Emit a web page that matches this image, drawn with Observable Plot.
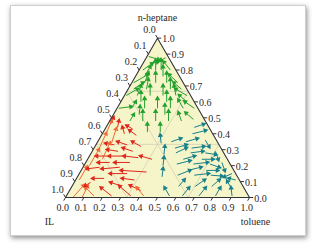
<!DOCTYPE html>
<html><head><meta charset="utf-8">
<script src="https://cdn.jsdelivr.net/npm/d3@7"></script>
<script src="https://cdn.jsdelivr.net/npm/@observablehq/plot@0.6"></script>
<style>
html,body{margin:0;padding:0;background:#fff;}
#wrap{position:relative;width:315px;height:245px;overflow:hidden;}
#card{position:absolute;left:10px;top:5px;width:294px;height:229px;background:#fff;border:1px solid #cfcfcf;box-shadow:1px 2px 5px rgba(0,0,0,0.45);}
#chart{position:absolute;left:0;top:0;}
</style></head>
<body><div id="wrap"><div id="card"></div><div id="chart"></div></div>
<script>
// axis tick values (fraction) and labels
const tickValues = [0,0.1,0.2,0.3,0.4,0.5,0.6,0.7,0.8,0.9,1.0];
const tickLabels = ["0.0","0.1","0.2","0.3","0.4","0.5","0.6","0.7","0.8","0.9","1.0"];
const gridValues = [1/3, 2/3];
const cornerNames = ["n-heptane","IL","toluene"];
// arrows: [heptane0, toluene0, heptane1, toluene1]  (IL = 1 - heptane - toluene)
const greenArrows = [
 [0.885,0.01,0.866,0.072],[0.877,0.105,0.86,0.087],
 [0.84,0.04,0.85,0.075],[0.76,0.05,0.82,0.05],[0.76,0.15,0.82,0.12],
 [0.80,0.02,0.84,0.05],[0.80,0.09,0.86,0.06],[0.80,0.12,0.86,0.09],[0.80,0.17,0.85,0.11],
 [0.72,0.01,0.77,0.06],[0.72,0.07,0.78,0.06],[0.72,0.13,0.78,0.10],[0.72,0.19,0.78,0.16],[0.72,0.25,0.77,0.18],
 [0.68,0.03,0.72,0.06],[0.68,0.10,0.74,0.08],[0.68,0.23,0.74,0.20],[0.68,0.29,0.72,0.23],
 [0.64,0.01,0.68,0.05],[0.64,0.07,0.70,0.06],[0.64,0.14,0.70,0.11],[0.64,0.21,0.70,0.18],[0.64,0.28,0.70,0.24],[0.64,0.34,0.68,0.26],
 [0.60,0.11,0.66,0.08],[0.60,0.25,0.66,0.22],[0.60,0.36,0.64,0.30],
 [0.56,0.01,0.57,0.07],[0.56,0.08,0.60,0.08],[0.56,0.15,0.62,0.12],[0.56,0.22,0.62,0.19],[0.56,0.29,0.62,0.26],[0.56,0.36,0.61,0.31],[0.56,0.42,0.60,0.35],
 [0.52,0.14,0.57,0.12],[0.52,0.28,0.58,0.25],
 [0.48,0.11,0.52,0.11],[0.48,0.18,0.54,0.15],[0.48,0.25,0.54,0.22],[0.48,0.32,0.54,0.29],[0.48,0.39,0.53,0.35],[0.49,0.45,0.53,0.39],
 [0.41,0.24,0.46,0.215],[0.41,0.31,0.46,0.285]
];
const redArrows = [
 [0.40,0.12,0.44,0.09],[0.39,0.19,0.42,0.14],[0.43,0.15,0.45,0.11],
 [0.33,0.10,0.34,0.05],[0.33,0.17,0.35,0.11],[0.32,0.25,0.35,0.19],
 [0.29,0.14,0.30,0.08],[0.29,0.22,0.31,0.16],
 [0.26,0.10,0.26,0.04],[0.26,0.18,0.26,0.11],[0.25,0.27,0.26,0.19],[0.24,0.35,0.26,0.28],
 [0.22,0.13,0.22,0.07],[0.22,0.24,0.22,0.16],
 [0.19,0.09,0.18,0.03],[0.19,0.20,0.18,0.11],[0.16,0.36,0.17,0.22],[0.15,0.26,0.15,0.17],
 [0.075,0.26,0.094,0.20],[0.11,0.32,0.12,0.25],[0.044,0.386,0.075,0.316],[0.12,0.15,0.12,0.09],
 [0.01,0.35,0.07,0.26],[0.01,0.245,0.06,0.165],[0.094,0.089,0.075,0.071],
 [0.46,0.015,0.50,0.01],[0.44,0.063,0.48,0.05]
];
const orangeArrows = [
 [0.20,0.03,0.30,0.03],[0.30,0.03,0.40,0.02],[0.40,0.02,0.48,0.01],
 [0.24,0.08,0.34,0.07],[0.34,0.08,0.43,0.06],[0.11,0.02,0.19,0.02],
 [0.0,0.04,0.075,0.06],[0.0,0.09,0.07,0.085],[0.01,0.15,0.06,0.08],[0.01,0.42,0.06,0.36]
];
const tealArrows = [
 [0.44,0.48,0.46,0.52],[0.40,0.49,0.42,0.55],
 [0.34,0.35,0.39,0.32],[0.35,0.40,0.37,0.44],[0.35,0.48,0.37,0.53],[0.36,0.58,0.32,0.62],
 [0.31,0.44,0.33,0.49],[0.31,0.53,0.32,0.59],
 [0.27,0.40,0.32,0.38],[0.28,0.46,0.31,0.50],[0.28,0.54,0.29,0.60],[0.28,0.62,0.27,0.68],[0.29,0.67,0.24,0.71],
 [0.24,0.52,0.26,0.57],[0.24,0.62,0.24,0.68],
 [0.20,0.43,0.25,0.41],[0.21,0.50,0.23,0.56],[0.21,0.59,0.22,0.66],[0.21,0.68,0.19,0.74],[0.22,0.74,0.17,0.78],
 [0.17,0.58,0.19,0.64],[0.17,0.68,0.17,0.74],
 [0.13,0.46,0.18,0.44],[0.14,0.54,0.17,0.59],[0.14,0.63,0.15,0.70],[0.14,0.72,0.135,0.78],[0.15,0.83,0.13,0.80],
 [0.01,0.56,0.06,0.51],[0.07,0.58,0.11,0.59],[0.07,0.67,0.11,0.70],[0.07,0.76,0.11,0.78],[0.07,0.86,0.10,0.83],
 [0.01,0.63,0.06,0.64],[0.01,0.72,0.06,0.73],[0.01,0.81,0.06,0.81],[0.01,0.90,0.06,0.87],[0.11,0.87,0.12,0.83]
];

const S = Math.sqrt(3)/2;
const X = (h,t) => t + h/2;
const Y = (h) => h*S;

function arrowTable(arr, color){
  return arr.map(([h0,t0,h1,t1]) => {
    const x1 = X(h0,t0), y1 = Y(h0), x2 = X(h1,t1), y2 = Y(h1);
    return {x1,y1,x2,y2,color,rot: Math.atan2(x2-x1, y2-y1)*180/Math.PI};
  });
}
const arrows = [
  ...arrowTable(orangeArrows,"#ef6a3a"),
  ...arrowTable(redArrows,"#e1261c"),
  ...arrowTable(greenArrows,"#22a12c"),
  ...arrowTable(tealArrows,"#16808a")
];

// triangle outline: vertices [heptane, toluene]
const verts = [[1,0],[0,0],[0,1],[1,0]].map(([h,t])=>({x:X(h,t),y:Y(h)}));
const grid = [];
gridValues.forEach(v=>{
  grid.push({x1:X(v,0),y1:Y(v),x2:X(v,1-v),y2:Y(v)});            // heptane const
  grid.push({x1:X(0,v),y1:0,x2:X(1-v,v),y2:Y(1-v)});             // toluene const
  grid.push({x1:X(1-v,0),y1:Y(1-v),x2:X(0,1-v),y2:0});           // IL const
});
const d = 0.02;
const bottomTicks = tickValues.map((v,i)=>({x1:X(0,v),y1:0,x2:X(-d,v),y2:Y(-d),label:tickLabels[i]}));
const leftTicks = tickValues.map((v,i)=>({x1:X(1-v,0),y1:Y(1-v),x2:X(1-v+d,-d),y2:Y(1-v+d),label:tickLabels[i]}));
const rightTicks = tickValues.map((v,i)=>({x1:X(v,1-v),y1:Y(v),x2:X(v,1-v+d),y2:Y(v),label:tickLabels[i]}));
const font = "Liberation Serif, DejaVu Serif, serif";
const txt = "#2a2a2a";

const chart = Plot.plot({
  width:315, height:245,
  x:{domain:[0,1], range:[65,249], axis:null},
  y:{domain:[0,S], range:[197,37.65], axis:null},
  style:{background:"transparent", fontFamily:font, fontSize:"10px", color:txt, overflow:"visible"},
  marks:[
    Plot.line(verts,{x:"x",y:"y",fill:"#f6f4c9",stroke:"none"}),
    Plot.link(grid,{x1:"x1",y1:"y1",x2:"x2",y2:"y2",stroke:"#d3d1b6",strokeWidth:0.8}),
    Plot.link(arrows,{x1:"x1",y1:"y1",x2:"x2",y2:"y2",stroke:"color",strokeWidth:1}),
    Plot.dot(arrows,{x:"x2",y:"y2",symbol:"triangle",r:2,fill:"color",stroke:"none",rotate:"rot"}),
    Plot.line(verts,{x:"x",y:"y",stroke:"#333",strokeWidth:1.1}),
    Plot.link(bottomTicks,{x1:"x1",y1:"y1",x2:"x2",y2:"y2",stroke:"#333"}),
    Plot.link(leftTicks,{x1:"x1",y1:"y1",x2:"x2",y2:"y2",stroke:"#333"}),
    Plot.link(rightTicks,{x1:"x1",y1:"y1",x2:"x2",y2:"y2",stroke:"#333"}),
    Plot.text(bottomTicks,{x:"x2",y:"y2",text:"label",dx:-1,dy:7,fill:txt}),
    Plot.text(leftTicks,{x:"x2",y:"y2",text:"label",textAnchor:"end",dx:0,dy:-5,fill:txt}),
    Plot.text(rightTicks,{x:"x2",y:"y2",text:"label",textAnchor:"start",dx:1,dy:1,fill:txt}),
    Plot.text([cornerNames[0]],{x:X(1,0),y:Y(1),text:d=>d,dy:-20,fill:txt}),
    Plot.text([cornerNames[1]],{x:X(0,0),y:0,text:d=>d,dx:-16,dy:24,fill:txt}),
    Plot.text([cornerNames[2]],{x:X(0,1),y:0,text:d=>d,dx:6,dy:24,fill:txt})
  ]
});
document.getElementById("chart").appendChild(chart);
</script></body></html>
